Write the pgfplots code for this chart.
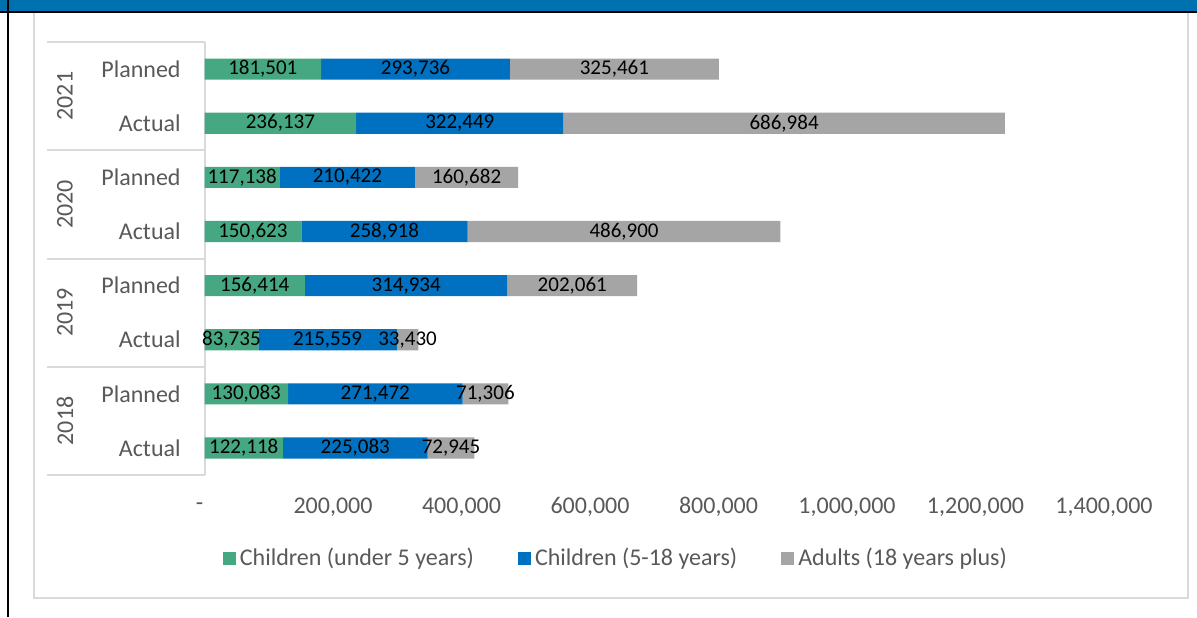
\documentclass[border=0pt]{standalone}
\usepackage{pgfplots}
\pgfplotsset{compat=1.18}
\usepackage{pgfplotstable}
\usepackage{fontspec}
\setmainfont{Carlito}
\definecolor{cgreen}{HTML}{46A882}
\definecolor{cblue}{HTML}{0070C0}
\definecolor{cgray}{HTML}{A5A5A5}
\definecolor{band}{HTML}{0071AF}
\definecolor{lgray}{HTML}{D9D9D9}
\definecolor{tgray}{HTML}{595959}

% pos: 0 = 2018 Actual, 1 = 2018 Planned, ..., 7 = 2021 Planned
\pgfplotstableread{
pos u5 c518 ad
0 122118 225083 72945
1 130083 271472 71306
2 83735 215559 33430
3 156414 314934 202061
4 150623 258918 486900
5 117138 210422 160682
6 236137 322449 686984
7 181501 293736 325461
}\data

\pgfplotsset{
  seg/.style={
    fill=#1, draw=none,
    point meta=explicit symbolic,
    nodes near coords={\pgfmathprintnumber[fixed,precision=0,1000 sep={,},assume math mode=true]{\pgfplotspointmeta}},
    every node near coord/.append style={anchor=center, inner sep=0pt, text=black, font=\fontsize{10.5}{12}\selectfont},
  }
}

\begin{document}
\begin{tikzpicture}
\useasboundingbox (0,0) rectangle (598.5pt,-308.5pt);
\begin{scope}[x=0.5pt,y=-0.5pt]
\fill[white] (0,0) rectangle (1197,617);
\draw[lgray, line width=1pt] (33.5,12) rectangle (1187.5,597.5);
\fill[band] (0,0) rectangle (1197,11);
\draw[black, line width=1pt] (0,11.5) -- (1197,11.5);
\draw[black, line width=1pt] (8,0) -- (8,617);
\end{scope}
\begin{axis}[
  at={(102.25pt,-237.5pt)}, anchor=south west,
  scale only axis, width=449.75pt, height=216.5pt,
  xbar stacked, bar width=0.39,
  xmin=0, xmax=1400000, ymin=-0.5, ymax=7.5,
  clip=false,
  axis x line*=bottom, axis y line*=left,
  x axis line style={draw=none},
  y axis line style={draw=lgray, line width=1pt},
  major tick length=0pt,
  scaled x ticks=false,
  xtick={0,200000,400000,600000,800000,1000000,1200000,1400000},
  xticklabels={{-\kern5pt},{200,000},{400,000},{600,000},{800,000},{1,000,000},{1,200,000},{1,400,000}},
  xticklabel style={anchor=center, yshift=-16pt, font=\fontsize{12}{14}\selectfont, text=tgray},
  ytick={0,1,2,3,4,5,6,7},
  yticklabels={Actual,Planned,Actual,Planned,Actual,Planned,Actual,Planned},
  yticklabel style={anchor=east, inner sep=0pt, xshift=-11.75pt, font=\fontsize{12}{14}\selectfont, text=tgray},
  extra y ticks={-0.5,1.5,3.5,5.5,7.5},
  extra y tick labels={},
  extra y tick style={major tick length=78.75pt, tick align=outside, major tick style={draw=lgray, line width=1pt}},
  legend columns=3,
  legend style={draw=none, fill=none, at={(0.4585,-0.1917)}, anchor=center, font=\fontsize{12}{14}\selectfont, text=tgray, /tikz/every even column/.append style={column sep=20pt}},
  legend image code/.code={\fill[#1] (0pt,-3.25pt) rectangle (6.5pt,3.25pt);},
]
\addplot[seg=cgreen] table[x=u5,y=pos,meta=u5]{\data};
\addplot[seg=cblue] table[x=c518,y=pos,meta=c518]{\data};
\addplot[seg=cgray] table[x=ad,y=pos,meta=ad]{\data};
\legend{Children (under 5 years), Children (5-18 years), Adults (18 years plus)}
\node[rotate=90, text=tgray, font=\fontsize{12}{14}\selectfont] at ([xshift=-69.75pt]axis cs:0,6.5) {2021};
\node[rotate=90, text=tgray, font=\fontsize{12}{14}\selectfont] at ([xshift=-69.75pt]axis cs:0,4.5) {2020};
\node[rotate=90, text=tgray, font=\fontsize{12}{14}\selectfont] at ([xshift=-69.75pt]axis cs:0,2.5) {2019};
\node[rotate=90, text=tgray, font=\fontsize{12}{14}\selectfont] at ([xshift=-69.75pt]axis cs:0,0.5) {2018};
\end{axis}
\end{tikzpicture}
\end{document}
